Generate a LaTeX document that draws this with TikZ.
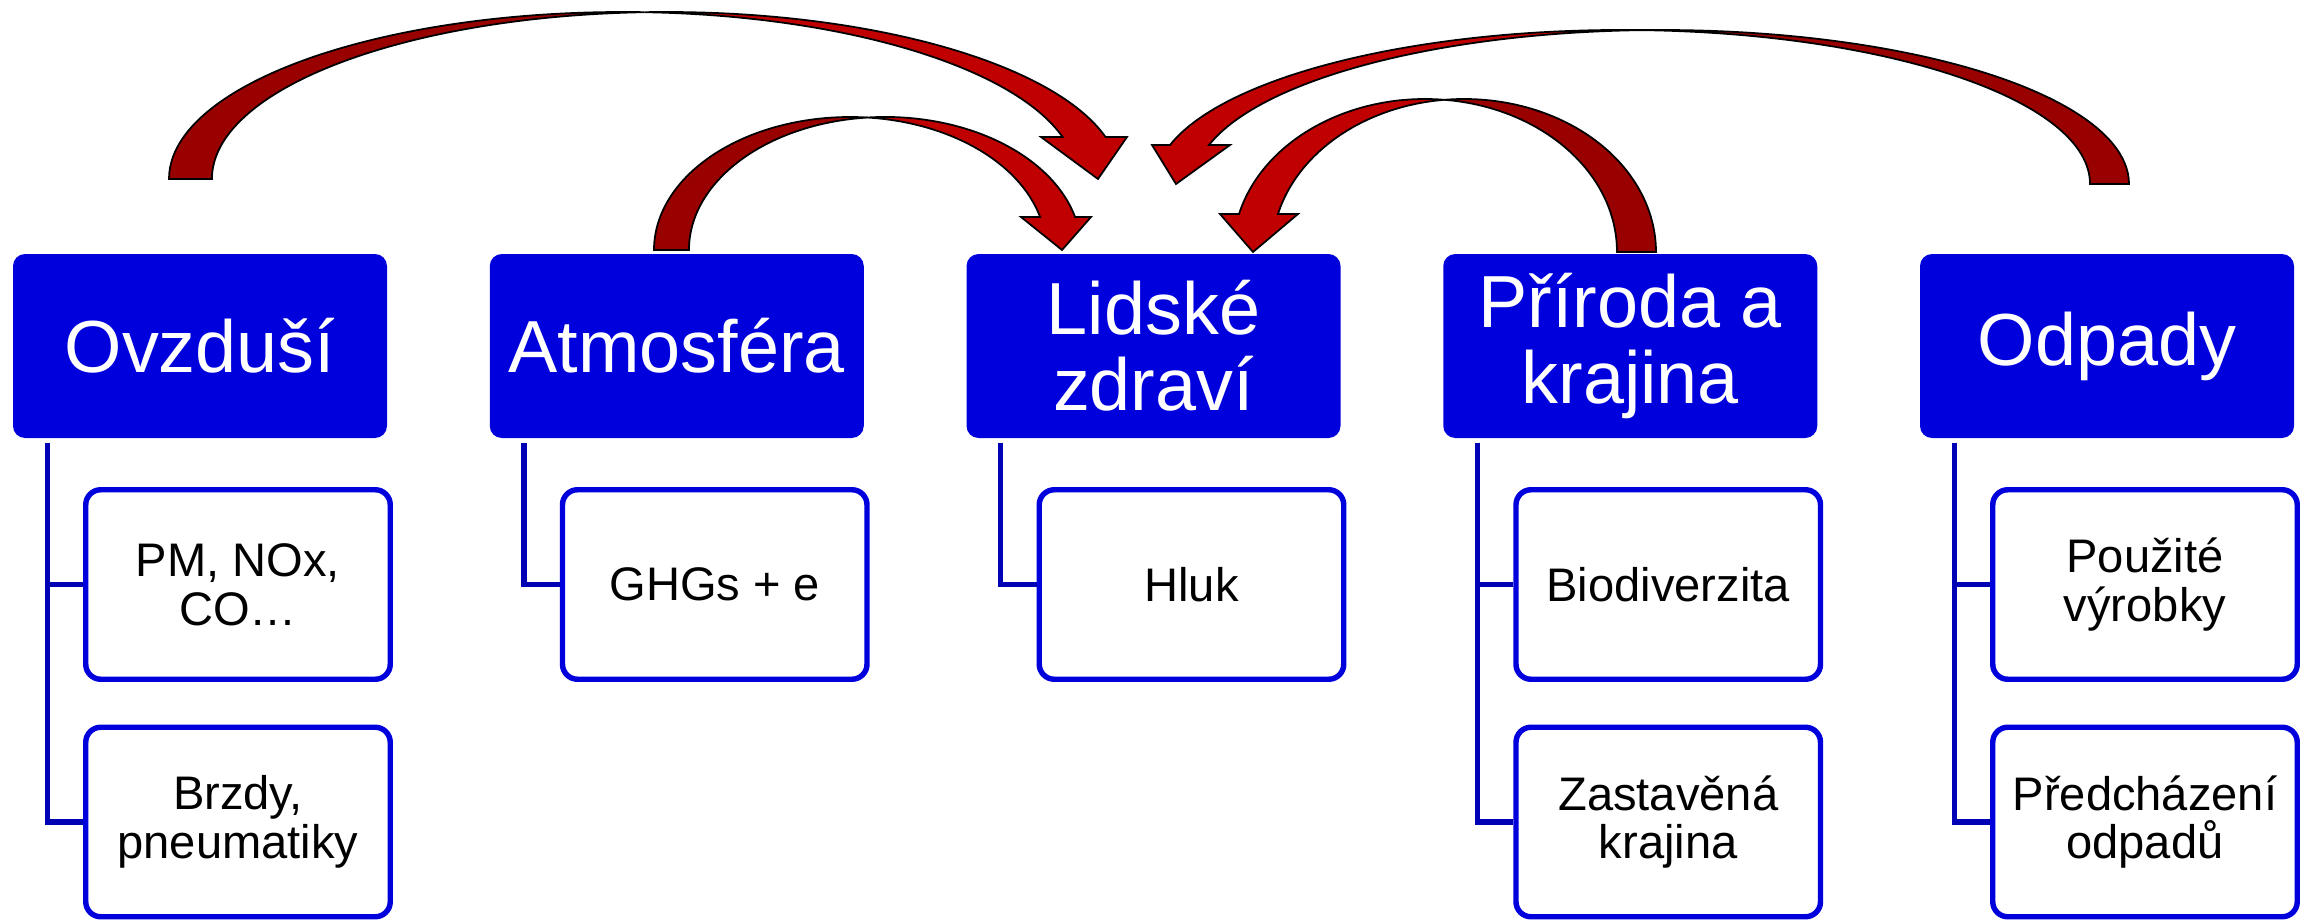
\documentclass[tikz,border=0pt]{standalone}
\usepackage{fontspec}
\setmainfont{Liberation Sans}
\definecolor{boxblue}{RGB}{0,0,221}
\definecolor{linkblue}{RGB}{0,0,180}
\definecolor{arrowred}{RGB}{192,0,0}
\definecolor{arrowdark}{RGB}{153,0,0}
\tikzstyle{mainbox}=[rectangle, rounded corners=1.2mm, fill=boxblue, text=white, minimum width=37.4mm, minimum height=18.4mm, align=center, inner sep=0pt, font=\fontsize{21}{21.6}\selectfont]
\tikzstyle{subbox}=[rectangle, rounded corners=1.5mm, draw=boxblue, line width=1.55pt, fill=white, minimum width=30.45mm, minimum height=18.95mm, align=center, inner sep=0pt, font=\fontsize{13.4}{13.9}\selectfont]
\tikzstyle{link}=[linkblue, line width=1.5pt]
\tikzstyle{back}=[fill=arrowdark, draw=black, line width=0.5pt]
\tikzstyle{front}=[fill=arrowred, draw=black, line width=0.5pt]

\begin{document}
\begin{tikzpicture}[x=0.1mm, y=-0.1mm]
\useasboundingbox (0,0) rectangle (2300,920);
% Main topics
    \node[mainbox] (ovz) at (200,346) {Ovzduší};
    \node[mainbox] (atm) at (676.75,346) {Atmosféra};
    \node[mainbox] (zdr) at (1153.5,346) {Lidské\\zdraví};
    \node[mainbox] (pri) at (1630.25,346) {Příroda a\\krajina};
    \node[mainbox] (odp) at (2107,346) {Odpady};
% Sub topics
    \node[subbox] (ovz1) at (238,584.5) {PM, NOx,\\CO…};
    \node[subbox] (ovz2) at (238,822) {Brzdy,\\pneumatiky};
    \node[subbox] (atm1) at (714.75,584.5) {GHGs + e};
    \node[subbox] (zdr1) at (1191.5,584.5) {Hluk};
    \node[subbox] (pri1) at (1668.25,584.5) {Biodiverzita};
    \node[subbox] (pri2) at (1668.25,822) {Zastavěná\\krajina};
    \node[subbox] (odp1) at (2145,584.5) {Použité\\výrobky};
    \node[subbox] (odp2) at (2145,822) {Předcházení\\odpadů};
% Tree lines
    \coordinate (ovzroot) at ([xshift=3.5mm,yshift=-0.4mm]ovz.south west);
    \coordinate (atmroot) at ([xshift=3.5mm,yshift=-0.4mm]atm.south west);
    \coordinate (zdrroot) at ([xshift=3.5mm,yshift=-0.4mm]zdr.south west);
    \coordinate (priroot) at ([xshift=3.5mm,yshift=-0.4mm]pri.south west);
    \coordinate (odproot) at ([xshift=3.5mm,yshift=-0.4mm]odp.south west);
    \draw[link] (ovzroot) |- (ovz1.west);
    \draw[link] (ovzroot) |- (ovz2.west);
    \draw[link] (atmroot) |- (atm1.west);
    \draw[link] (zdrroot) |- (zdr1.west);
    \draw[link] (priroot) |- (pri1.west);
    \draw[link] (priroot) |- (pri2.west);
    \draw[link] (odproot) |- (odp1.west);
    \draw[link] (odproot) |- (odp2.west);
% Curved arrows into Lidske zdravi
    \draw[back] (169,179) arc[start angle=180, end angle=272.71, x radius=454.1, y radius=167]
        arc[start angle=267.29, end angle=180, x radius=454.1, y radius=167] -- cycle;
    \draw[front] (644.6,12.2) arc[start angle=267.29, end angle=345.43, x radius=454.1, y radius=167]
        -- (1127,137) -- (1098,179) -- (1041,137) -- (1062.6,137)
        arc[start angle=345.43, end angle=272.71, x radius=454.1, y radius=167] -- cycle;
    \draw[back] (654,250) arc[start angle=180, end angle=275.12, x radius=196.1, y radius=133]
        arc[start angle=264.88, end angle=180, x radius=196.1, y radius=133] -- cycle;
    \draw[front] (867.6,117.5) arc[start angle=264.88, end angle=345.63, x radius=196.1, y radius=133]
        -- (1091,217) -- (1062,250) -- (1021,217) -- (1040.1,217)
        arc[start angle=345.63, end angle=275.12, x radius=196.1, y radius=133] -- cycle;
    \draw[back] (2129,184) arc[start angle=0, end angle=-92.39, x radius=467.6, y radius=154]
        arc[start angle=-87.61, end angle=0, x radius=467.6, y radius=154] -- cycle;
    \draw[front] (1641.9,30.1) arc[start angle=-87.61, end angle=-165.33, x radius=467.6, y radius=154]
        -- (1152,145) -- (1176,184) -- (1230,145) -- (1209,145)
        arc[start angle=-165.33, end angle=-92.39, x radius=467.6, y radius=154] -- cycle;
    \draw[back] (1656,252) arc[start angle=0, end angle=-95.83, x radius=192, y radius=153]
        arc[start angle=-84.17, end angle=0, x radius=192, y radius=153] -- cycle;
    \draw[front] (1444.5,99.8) arc[start angle=-84.17, end angle=-165.62, x radius=192, y radius=153]
        -- (1220,214) -- (1253,252) -- (1298,214) -- (1278,214)
        arc[start angle=-165.62, end angle=-95.83, x radius=192, y radius=153] -- cycle;
\end{tikzpicture}
\end{document}
